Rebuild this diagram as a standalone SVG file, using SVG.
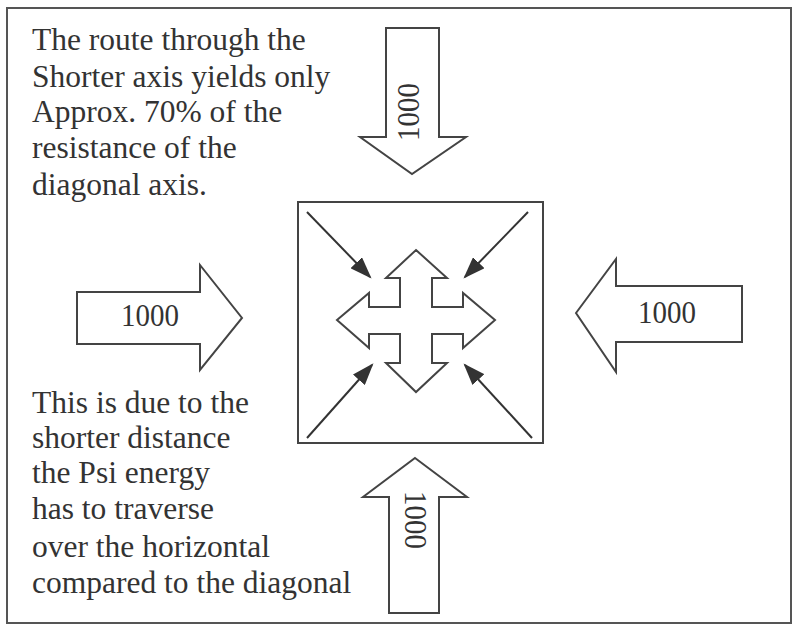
<svg xmlns="http://www.w3.org/2000/svg" width="793" height="626" viewBox="0 0 793 626">
  <style>
    .frame { fill: none; stroke: #555; stroke-width: 2; }
    .block { fill: #fff; stroke: #444; stroke-width: 2; stroke-linejoin: miter; }
    .push { stroke: #333; stroke-width: 2; fill: none; }
    .note { font-family: "Liberation Serif", "Times New Roman", serif; font-size: 31.5px; fill: #333; }
    .num { font-family: "Liberation Serif", "Times New Roman", serif; font-size: 29px; fill: #333; text-anchor: middle; }
  </style>
  <defs>
    <marker id="headBig" viewBox="0 0 10 10" refX="9" refY="5" markerWidth="22" markerHeight="16" markerUnits="userSpaceOnUse" orient="auto" preserveAspectRatio="none">
      <path d="M0,0 L10,5 L0,10 Z" fill="#333"/>
    </marker>
  </defs>

  <rect x="0" y="0" width="793" height="626" fill="#fff"/>
  <rect class="frame" x="7" y="8" width="784" height="615"/>

  <!-- explanatory notes -->
  <g id="note-top">
    <text class="note" x="32" y="50">The route through the</text>
    <text class="note" x="32" y="87">Shorter axis yields only</text>
    <text class="note" x="32" y="122">Approx. 70% of the</text>
    <text class="note" x="32" y="158">resistance of the</text>
    <text class="note" x="32" y="195">diagonal axis.</text>
  </g>
  <g id="note-bottom">
    <text class="note" x="32" y="413">This is due to the</text>
    <text class="note" x="32" y="448">shorter distance</text>
    <text class="note" x="32" y="483">the Psi energy</text>
    <text class="note" x="32" y="519">has to traverse</text>
    <text class="note" x="32" y="557">over the horizontal</text>
    <text class="note" x="32" y="593">compared to the diagonal</text>
  </g>

  <!-- incoming force arrows -->
  <g id="arrow-top">
    <polygon class="block" points="386,28 439,28 439,137 466,137 412,174 360,137 386,137"/>
    <text class="num" transform="translate(419,112) rotate(-90) scale(1,1.12)">1000</text>
  </g>
  <g id="arrow-bottom">
    <polygon class="block" points="415,458 467,497 439,497 439,613 389,613 389,497 363,497"/>
    <text class="num" transform="translate(405,520) rotate(90) scale(1,1.12)">1000</text>
  </g>
  <g id="arrow-left">
    <polygon class="block" points="77,292 200,292 200,265 242,318 200,370 200,344 77,344"/>
    <text class="num" transform="translate(150,326) scale(1,1.12)">1000</text>
  </g>
  <g id="arrow-right">
    <polygon class="block" points="576,313 616,259 616,286 742,286 742,342 616,342 616,372"/>
    <text class="num" transform="translate(667,323) scale(1,1.12)">1000</text>
  </g>

  <!-- central square with four-way arrow -->
  <g id="core">
    <rect x="298" y="202" width="245" height="241" fill="none" stroke="#444" stroke-width="2"/>
    <polygon class="block" points="416,250 447,278 432,278 432,307 463,307 463,293 495,320 463,348 463,334 432,334 432,363 447,363 416,392 386,363 400,363 400,334 369,334 369,348 337,320 369,293 369,307 400,307 400,278 386,278"/>
  </g>

  <!-- diagonal pressure lines -->
  <g id="connectors">
    <line class="push" x1="307" y1="212" x2="370" y2="277" marker-end="url(#headBig)"/>
    <line class="push" x1="528" y1="212" x2="465" y2="277" marker-end="url(#headBig)"/>
    <line class="push" x1="307" y1="438" x2="372" y2="365" marker-end="url(#headBig)"/>
    <line class="push" x1="532" y1="438" x2="465" y2="365" marker-end="url(#headBig)"/>
  </g>
</svg>
